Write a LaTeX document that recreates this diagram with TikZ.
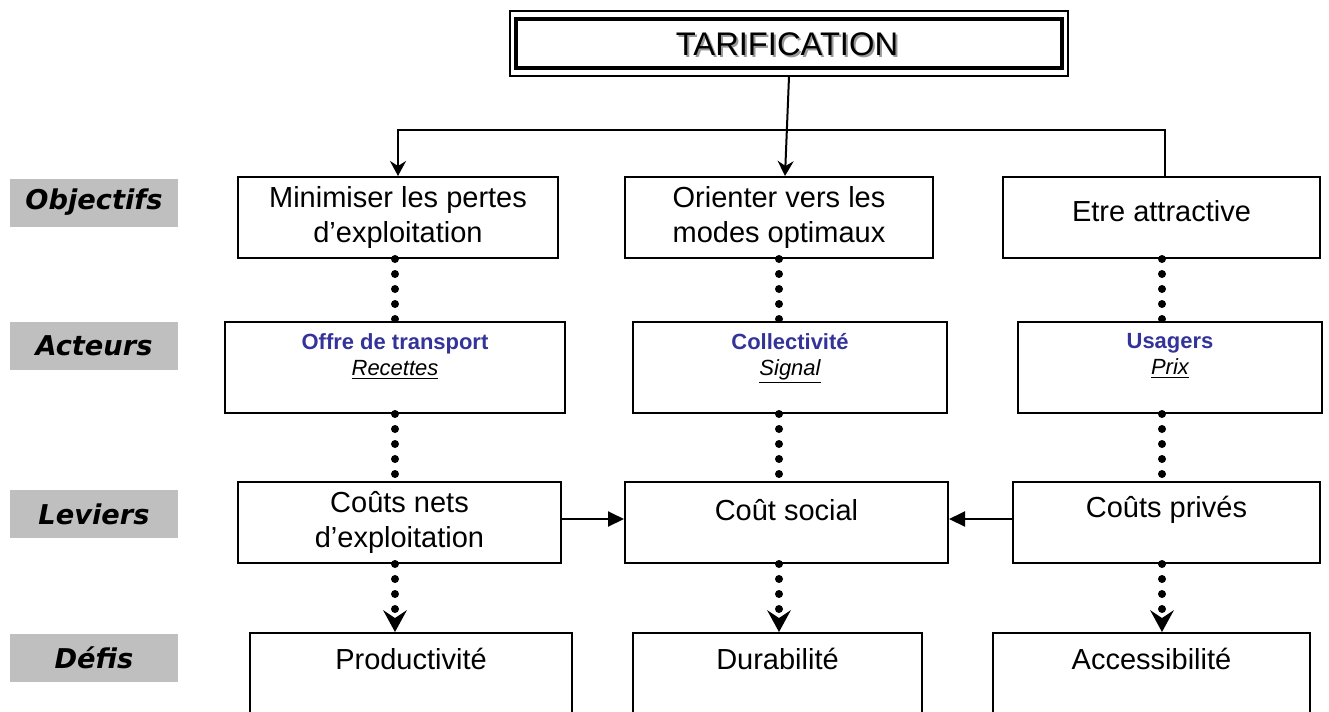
\documentclass[tikz,border=0pt]{standalone}
\usepackage{fontspec}
\setmainfont{Liberation Sans}
\newfontfamily\rowfont{DejaVu Sans}
\usetikzlibrary{arrows.meta}
\definecolor{actblue}{RGB}{51,51,153}

\begin{document}
\begin{tikzpicture}
    \tikzstyle{every node}=[font=\fontsize{16.5}{19.5}\selectfont, align=center]
    \tikzstyle{box}=[draw, line width=0.04cm, inner sep=0pt]
    \tikzstyle{rowlabel}=[fill=black!25, minimum width=3.36cm, minimum height=0.96cm, font=\rowfont\bfseries\itshape\fontsize{15.5}{18}\selectfont]
    \tikzstyle{acteur}=[inner sep=0pt, anchor=north, font=\fontsize{12.5}{14.7}\selectfont]
    \tikzstyle{link}=[line width=0.04cm]
    \tikzstyle{dots}=[line width=0.16cm, line cap=round, dash pattern=on 0pt off 0.3cm]
    \tikzstyle{toparr}=[-{Stealth[length=0.3cm, width=0.32cm, inset=0.1cm]}]
    \tikzstyle{dotarr}=[-{Stealth[length=0.44cm, width=0.48cm, inset=0.16cm, line width=0pt]}]
    \tikzstyle{levarr}=[-{Triangle[length=0.32cm, width=0.3cm]}]

    \useasboundingbox (0,0) rectangle (26.58,-14.22);

    % titre
    \node[draw, line width=0.03cm, minimum width=11.16cm, minimum height=1.3cm] (frame) at (15.78,-0.87) {};
    \node[draw, line width=0.08cm, minimum width=10.92cm, minimum height=0.98cm] (title) at (15.78,-0.87) {};
    \node[text=black!40, font=\fontsize{18.6}{20}\selectfont] (titleshadow) at (15.78,-0.93) {TARIFICATION};
    \node[font=\fontsize{18.6}{20}\selectfont] (titletext) at (15.74,-0.89) {TARIFICATION};

    % etiquettes des lignes
    \node[rowlabel] (lobj) at (1.88,-4.05) {Objectifs};
    \node[rowlabel] (lact) at (1.88,-6.92) {Acteurs};
    \node[rowlabel] (llev) at (1.88,-10.28) {Leviers};
    \node[rowlabel] (ldef) at (1.88,-13.15) {Défis};

    % objectifs
    \node[box, minimum width=6.4cm, minimum height=1.62cm] (ob1) at (7.96,-4.35) {Minimiser les pertes\\d’exploitation};
    \node[box, minimum width=6.16cm, minimum height=1.62cm] (ob2) at (15.58,-4.35) {Orienter vers les\\modes optimaux};
    \node[box, minimum width=6.34cm, minimum height=1.62cm] (ob3) at (23.23,-4.35) {};
    \node (ob3t) at (23.23,-4.22) {Etre attractive};

    % acteurs
    \node[box, minimum width=6.8cm, minimum height=1.82cm] (ac1) at (7.9,-7.35) {};
    \node[box, minimum width=6.28cm, minimum height=1.82cm] (ac2) at (15.8,-7.35) {};
    \node[box, minimum width=6.08cm, minimum height=1.82cm] (ac3) at (23.4,-7.35) {};
    \node[acteur] (ac1t) at ([yshift=-0.25cm]ac1.north) {\textcolor{actblue}{\bfseries Offre de transport}\\\underline{\itshape Recettes}};
    \node[acteur] (ac2t) at ([yshift=-0.25cm]ac2.north) {\textcolor{actblue}{\bfseries Collectivité}\\\underline{\itshape Signal}};
    \node[acteur] (ac3t) at ([yshift=-0.25cm]ac3.north) {\textcolor{actblue}{\bfseries Usagers}\\\underline{\itshape Prix}};

    % leviers
    \node[box, minimum width=6.46cm, minimum height=1.62cm] (lv1) at (7.99,-10.45) {Coûts nets\\d’exploitation};
    \node[box, minimum width=6.46cm, minimum height=1.62cm] (lv2) at (15.73,-10.45) {};
    \node[box, minimum width=6.14cm, minimum height=1.62cm] (lv3) at (23.33,-10.45) {};
    \node (lv2t) at (15.73,-10.2) {Coût social};
    \node (lv3t) at (23.33,-10.2) {Coûts privés};

    % defis
    \node[box, minimum width=6.44cm, minimum height=2.14cm] (df1) at (8.22,-13.73) {};
    \node[box, minimum width=5.78cm, minimum height=2.14cm] (df2) at (15.55,-13.73) {};
    \node[box, minimum width=6.34cm, minimum height=2.14cm] (df3) at (23.03,-13.73) {};
    \node (df1t) at ([yshift=-0.54cm]df1.north) {Productivité};
    \node (df2t) at ([yshift=-0.54cm]df2.north) {Durabilité};
    \node (df3t) at ([yshift=-0.54cm]df3.north) {Accessibilité};

    % liaisons
    \coordinate (hub) at (15.74,-2.6);
    \coordinate (c1) at (7.9,0);
    \coordinate (c2) at (15.58,0);
    \coordinate (c3) at (23.24,0);

    \draw[link, toparr] (frame.south) -- ([xshift=0.12cm]ob2.north);
    \draw[link, toparr] (hub) -| (ob1.north);
    \draw[link] (hub) -| ([xshift=0.07cm]ob3.north);

    \draw[dots] (c1 |- ob1.south) -- (c1 |- ac1.north)
    (c2 |- ob2.south) -- (c2 |- ac2.north)
    (c3 |- ob3.south) -- (c3 |- ac3.north)
    (c1 |- ac1.south) -- (c1 |- lv1.north)
    (c2 |- ac2.south) -- (c2 |- lv2.north)
    (c3 |- ac3.south) -- (c3 |- lv3.north);
    \draw[dots, dotarr] (c1 |- lv1.south) -- (c1 |- df1.north);
    \draw[dots, dotarr] (c2 |- lv2.south) -- (c2 |- df2.north);
    \draw[dots, dotarr] (c3 |- lv3.south) -- (c3 |- df3.north);

    \draw[link, levarr] ([yshift=0.07cm]lv1.east) -- ([yshift=0.07cm]lv2.west);
    \draw[link, levarr] ([yshift=0.07cm]lv3.west) -- ([yshift=0.07cm]lv2.east);
\end{tikzpicture}
\end{document}
